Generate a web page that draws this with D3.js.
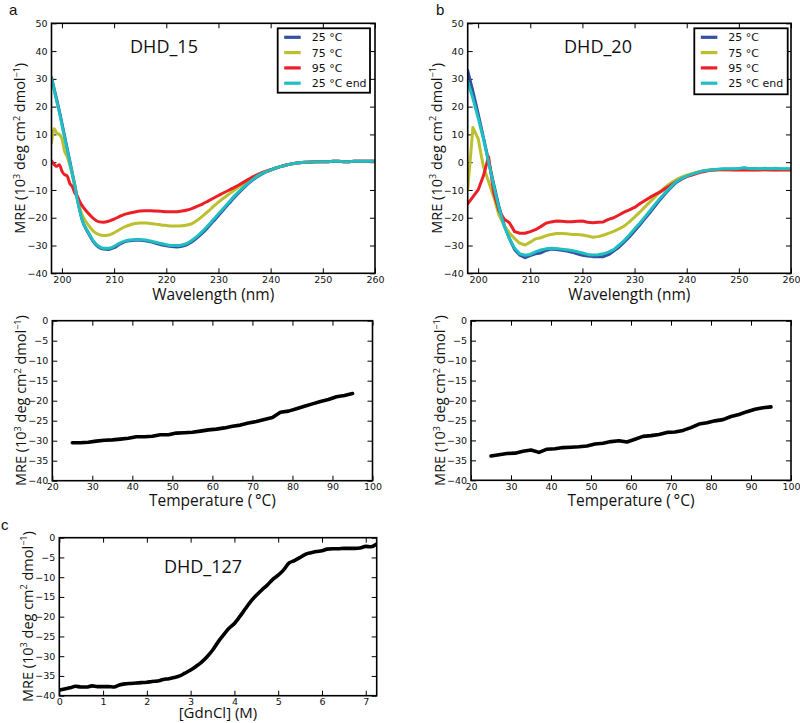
<!DOCTYPE html>
<html><head><meta charset="utf-8">
<script src="https://cdn.jsdelivr.net/npm/d3@7"></script>
<style>body{margin:0;background:#fff} svg{display:block}</style>
</head><body><svg id="chart" width="800" height="723"></svg>
<script>
// ---------- DATA ----------
// Panel a (DHD_15) CD spectra
const wlA = [198,198.5,199,199.5,200,200.5,201,201.5,202,202.5,203,203.5,204,
  205,206,207,208,209,210,211,212,213,214,215,216,217,218,219,220,221,222,223,224,225,226,227,228,229,230,
  231,232,233,234,235,236,237,238,239,240,241,242,243,244,245,246,247,248,249,250,251,252,253,254,255,256,257,258,259,260];
const a25 = [30.5,26.5,22.5,18.5,14,9.5,5,0.5,-4,-8.5,-13.5,-18,-21.5,
  -25.3,-28.6,-30.5,-31.3,-31.4,-30.8,-29.6,-28.7,-28.3,-28.1,-28.1,-28.3,-28.7,-29.2,-29.7,-30.1,-30.4,-30.5,-30.3,-29.7,-28.6,-27.1,-25.4,-23.4,-21.3,-19.2,
  -17,-14.9,-12.8,-10.8,-9,-7.3,-5.8,-4.6,-3.6,-2.9,-2.1,-1.5,-1,-0.6,-0.3,-0.1,0,0.1,0.2,0.2,0.2,0.3,0.3,0.2,0.2,0.3,0.3,0.3,0.3,0.3];
const a75 = [7,12,10.5,10,8.5,4,2,-1,-4.5,-9,-13.5,-17,-19.5,
  -22.5,-24.8,-26,-26.4,-26.2,-25.4,-24.3,-23.3,-22.6,-22.1,-21.9,-21.9,-22.1,-22.3,-22.6,-22.8,-23,-23,-22.9,-22.6,-22,-20.8,-19.3,-17.7,-16,-14.4,
  -12.9,-11.5,-10.1,-8.8,-7.5,-6.3,-5.2,-4.2,-3.4,-2.8,-2.1,-1.5,-1,-0.6,-0.3,-0.1,0,0.1,0.2,0.2,0.2,0.3,0.3,0.2,0.2,0.3,0.3,0.3,0.3,0.3];
const a95 = [0.5,-0.8,-1.5,-0.9,-3.2,-4.5,-4.9,-7.6,-8.8,-11.2,-12.4,-14.5,-16,
  -18.3,-20.2,-21.4,-21.6,-21.2,-20.5,-19.6,-18.8,-18.3,-17.9,-17.6,-17.5,-17.5,-17.6,-17.7,-17.8,-17.8,-17.8,-17.6,-17.2,-16.6,-15.8,-15,-14,-13,-12,
  -11,-10.1,-9.1,-8.1,-7,-5.9,-4.9,-4,-3.3,-2.7,-2.1,-1.5,-1,-0.6,-0.3,-0.1,0,0.1,0.2,0.2,0.2,0.3,0.3,0.2,0.2,0.3,0.3,0.3,0.3,0.3];
const a25end = [30,26,22,18,13.5,9,4.5,0,-4.5,-9,-14,-18,-21.5,
  -25,-28.3,-30.2,-31,-31,-30.3,-29.2,-28.4,-28,-27.8,-27.8,-28,-28.4,-28.8,-29.3,-29.7,-30,-30,-29.8,-29.2,-28,-26.5,-24.8,-22.8,-20.7,-18.6,
  -16.5,-14.4,-12.3,-10.4,-8.7,-7.1,-5.6,-4.4,-3.5,-2.8,-2.1,-1.5,-1,-0.6,-0.3,-0.1,0,0.1,0.2,0.2,0.2,0.3,0.3,0.2,0.2,0.3,0.3,0.3,0.3,0.3];

// Panel b (DHD_20) CD spectra
const wlB = d3.range(198, 261, 1);
const b25 = [33,25.5,17.5,9,0.5,-8,-16,-22.5,-27.5,-31.5,-33.5,-34.4,-33.6,-33,-32.7,-31.8,-31.3,-31.4,-31.7,-32,-32.4,-33,-33.5,-33.8,-34,-34,-34,
  -33.3,-32,-30.6,-28.8,-26.9,-24.8,-22.6,-20.3,-18,-15.6,-13.3,-11.1,-9.1,-7.3,-6.1,-5.1,-4.4,-3.8,-3.3,-3,-2.8,-2.6,-2.5,-2.5,-2.5,-2.4,-2.2,-2.4,-2.4,-2.5,-2.3,-2.5,-2.3,-2.5,-2.5,-2.5];
const b75 = [-10,12.5,8.5,-1.5,-7,-12.5,-19,-22.8,-25.5,-27.5,-29.2,-29.8,-28.8,-27.6,-27.2,-26.5,-26,-25.7,-25.7,-25.8,-26,-26,-26.2,-26.6,-27,-26.8,-26.3,
  -25.6,-24.9,-24,-23,-21.5,-19.8,-18,-16.1,-14.2,-12.3,-10.5,-8.8,-7.4,-6.3,-5.4,-4.7,-4.1,-3.6,-3.2,-2.9,-2.8,-2.7,-2.7,-2.7,-2.7,-2.6,-2.7,-2.7,-2.6,-2.7,-2.7,-2.6,-2.7,-2.7,-2.7,-2.7];
const b95 = [-15,-12.5,-10,-5,2,-11,-17.5,-20.5,-21.8,-25,-25.6,-25.6,-25,-24.3,-23.2,-22,-21.5,-21.2,-21.3,-21.4,-21.4,-21.3,-21.2,-21.6,-21.8,-21.6,-21.5,
  -20.6,-20,-19,-18,-17.2,-16.3,-15,-13.8,-12.6,-11.6,-10.6,-9.4,-8.2,-7,-6,-5.2,-4.6,-4,-3.5,-3.1,-2.8,-2.7,-2.7,-2.7,-2.8,-2.8,-2.7,-2.8,-2.7,-2.8,-2.7,-2.8,-2.7,-2.8,-2.8,-2.8];
const b25end = [29,23,16,8.5,0,-8.5,-16.5,-23,-27.5,-31,-33,-33.5,-33.2,-32.3,-31.6,-31.2,-31,-31.1,-31.3,-31.5,-31.8,-32.2,-32.7,-33.2,-33.4,-33.3,-33,
  -32.4,-31.5,-29.9,-28.2,-26.2,-24,-22,-19.7,-17.4,-15,-12.8,-10.7,-8.8,-7,-5.9,-5,-4.3,-3.7,-3.2,-2.9,-2.7,-2.5,-2.4,-2.4,-2.4,-2.3,-2.0,-2.3,-2.3,-2.4,-2.2,-2.4,-2.2,-2.4,-2.4,-2.4];

// Thermal melts at 222 nm
const temps = d3.range(25, 96, 2);
const meltA = [-30.5,-30.5,-30.4,-30.1,-29.9,-29.8,-29.6,-29.4,-29.0,-29.0,-28.9,-28.5,-28.5,-28.1,-28.0,-27.9,-27.6,-27.3,
  -27.1,-26.8,-26.4,-26.1,-25.6,-25.2,-24.7,-24.2,-22.9,-22.6,-22.0,-21.4,-20.8,-20.2,-19.7,-19.0,-18.7,-18.2];
const meltB = [-33.9,-33.6,-33.3,-33.2,-32.7,-32.4,-33.0,-32.2,-32.1,-31.8,-31.7,-31.6,-31.4,-30.9,-30.7,-30.3,-30.1,-30.4,
  -29.7,-29.0,-28.8,-28.5,-28.0,-27.9,-27.5,-26.8,-25.9,-25.6,-25.1,-24.8,-24.0,-23.5,-22.8,-22.2,-21.8,-21.6];

// Chemical denaturation (DHD_127)
const gdn = [0,0.12,0.25,0.37,0.5,0.62,0.75,0.87,1.0,1.12,1.25,1.37,1.5,1.62,1.75,1.87,2.0,2.12,2.25,2.37,2.5,2.62,2.75,2.87,
  3.0,3.12,3.25,3.37,3.5,3.62,3.75,3.87,4.0,4.12,4.25,4.37,4.5,4.62,4.75,4.87,5.0,5.12,5.25,5.37,5.5,5.62,5.75,5.87,
  6.0,6.12,6.25,6.37,6.5,6.62,6.75,6.87,7.0,7.12,7.25];
const mreC = [-38.6,-38.3,-38.0,-37.6,-37.8,-37.8,-37.5,-37.7,-37.7,-37.7,-37.8,-37.3,-37.0,-36.9,-36.8,-36.7,-36.6,-36.4,-36.3,-35.9,-35.7,-35.4,-35.0,-34.3,
  -33.5,-32.6,-31.5,-30.2,-28.5,-26.5,-24.6,-23.0,-21.7,-20.0,-18.0,-16.2,-14.6,-13.3,-12.0,-10.6,-9.5,-8.2,-6.4,-5.8,-5.0,-4.2,-3.8,-3.5,
  -3.3,-2.9,-2.8,-2.8,-2.7,-2.7,-2.7,-2.6,-2.2,-2.3,-1.6];

const legendLabels = ["25 \u00B0C", "75 \u00B0C", "95 \u00B0C", "25 \u00B0C end"];
const colors = ["#3450a3", "#bcbf2e", "#ec1f26", "#20bdc2"];
const wlTicks = [200,210,220,230,240,250,260];
const cdTicks = [-40,-30,-20,-10,0,10,20,30,40,50];
const tTicks = [20,30,40,50,60,70,80,90,100];
const meltTicks = [-40,-35,-30,-25,-20,-15,-10,-5,0];
const gdnTicks = [0,1,2,3,4,5,6,7];

// ---------- DRAWING ----------
const svg = d3.select("#chart");
const tickFont = "DejaVu Sans";
const labelFont = "Open Sans";
let clipId = 0;

function yLabel(g, x, yc) {
  const t = g.append("text")
    .attr("transform", `translate(${x},${yc}) rotate(-90)`)
    .attr("text-anchor", "middle")
    .attr("font-family", labelFont).attr("font-size", 14.5).attr("fill", "#111");
  t.append("tspan").text("MRE (10");
  t.append("tspan").text("3").attr("font-size", 9).attr("dy", -5.5);
  t.append("tspan").text(" deg cm").attr("dy", 5.5);
  t.append("tspan").text("2").attr("font-size", 9).attr("dy", -5.5);
  t.append("tspan").text(" dmol").attr("dy", 5.5);
  t.append("tspan").text("\u22121").attr("font-size", 9).attr("dy", -5.5);
  t.append("tspan").text(")").attr("dy", 5.5);
}

function panel(c) {
  const g = svg.append("g");
  const x = d3.scaleLinear().domain(c.xd).range([c.x0, c.x1]);
  const y = d3.scaleLinear().domain(c.yd).range([c.y1, c.y0]);
  const id = "clip" + (clipId++);
  svg.append("clipPath").attr("id", id).append("rect")
    .attr("x", c.x0).attr("y", c.y0).attr("width", c.x1 - c.x0).attr("height", c.y1 - c.y0);

  const styleAxis = sel => {
    sel.select(".domain").remove();
    sel.selectAll(".tick line").attr("stroke", "#000").attr("stroke-width", 1);
    sel.selectAll(".tick text").attr("font-family", tickFont).attr("font-size", 9.5).attr("fill", "#111");
  };
  g.append("g").attr("transform", `translate(0,${c.y1})`)
    .call(d3.axisBottom(x).tickValues(c.xt).tickSize(-5).tickPadding(3)).call(styleAxis);
  g.append("g").attr("transform", `translate(0,${c.y0})`)
    .call(d3.axisTop(x).tickValues(c.xt).tickSize(-5).tickFormat("")).call(styleAxis);
  g.append("g").attr("transform", `translate(${c.x0},0)`)
    .call(d3.axisLeft(y).tickValues(c.yt).tickSize(-5).tickPadding(4)).call(styleAxis);
  g.append("g").attr("transform", `translate(${c.x1},0)`)
    .call(d3.axisRight(y).tickValues(c.yt).tickSize(-5).tickFormat("")).call(styleAxis);

  const lines = g.append("g").attr("clip-path", `url(#${id})`);
  c.series.forEach(s => {
    const pts = s.x.map((v, i) => [v, s.y[i]]);
    lines.append("path").datum(pts)
      .attr("fill", "none").attr("stroke", s.color).attr("stroke-width", s.w)
      .attr("stroke-linejoin", "round").attr("stroke-linecap", "round")
      .attr("d", d3.line().x(d => x(d[0])).y(d => y(d[1])).curve(s.curve || d3.curveLinear));
  });

  g.append("rect").attr("x", c.x0).attr("y", c.y0).attr("width", c.x1 - c.x0).attr("height", c.y1 - c.y0)
    .attr("fill", "none").attr("stroke", "#000").attr("stroke-width", 1.6);

  g.append("text").attr("x", (c.x0 + c.x1) / 2).attr("y", c.xlY).attr("text-anchor", "middle")
    .attr("font-family", labelFont).attr("font-size", c.xlSize || 15.5).attr("fill", "#111").text(c.xl);
  yLabel(g, c.ylX, (c.y0 + c.y1) / 2);

  if (c.title) {
    g.append("text").attr("x", c.title[1]).attr("y", c.title[2]).attr("text-anchor", "middle")
      .attr("font-family", labelFont).attr("font-size", 18).attr("fill", "#111").text(c.title[0]);
  }
  if (c.legend) {
    const L = c.legend;
    const lg = g.append("g");
    lg.append("rect").attr("x", L.x).attr("y", L.y).attr("width", L.w).attr("height", L.h)
      .attr("fill", "#fff").attr("stroke", "#000").attr("stroke-width", 1.8);
    legendLabels.forEach((lab, i) => {
      const yy = L.y + 9 + i * 15.3;
      lg.append("line").attr("x1", L.x + 6.5).attr("x2", L.x + 23).attr("y1", yy).attr("y2", yy)
        .attr("stroke", colors[i]).attr("stroke-width", 3.2);
      lg.append("text").attr("x", L.x + 34).attr("y", yy + 4).attr("font-family", tickFont)
        .attr("font-size", 11).attr("fill", "#111").text(lab);
    });
  }
  return g;
}

const cdSeries = (wl, arrs, curve) => arrs.map((arr, i) => ({x: wl, y: arr, color: colors[i], w: 3, curve}));

panel({x0: 51.5, x1: 375, y0: 23.3, y1: 273.3, xd: [198, 260], yd: [-40, 50], xt: wlTicks, yt: cdTicks,
  series: cdSeries(wlA, [a25, a75, a95, a25end], d3.curveMonotoneX),
  xl: "Wavelength (nm)", xlY: 299.5, ylX: 25, title: ["DHD_15", 164, 53],
  legend: {x: 277.7, y: 28.3, w: 92.3, h: 64.4}});

panel({x0: 467.7, x1: 791, y0: 23.3, y1: 273.3, xd: [198, 260], yd: [-40, 50], xt: wlTicks, yt: cdTicks,
  series: cdSeries(wlB, [b25, b75, b95, b25end], d3.curveLinear),
  xl: "Wavelength (nm)", xlY: 299.5, ylX: 441.5, title: ["DHD_20", 598, 53],
  legend: {x: 694.3, y: 28.3, w: 93.4, h: 66}});

panel({x0: 52.3, x1: 372.5, y0: 320.7, y1: 480.7, xd: [20, 100], yd: [-40, 0], xt: tTicks, yt: meltTicks,
  series: [{x: temps, y: meltA, color: "#000", w: 3.6}],
  xl: "Temperature (\u2009\u00B0C)", xlY: 506, ylX: 26});

panel({x0: 471, x1: 791, y0: 320.7, y1: 480.3, xd: [20, 100], yd: [-40, 0], xt: tTicks, yt: meltTicks,
  series: [{x: temps, y: meltB, color: "#000", w: 3.6}],
  xl: "Temperature (\u2009\u00B0C)", xlY: 505.5, ylX: 445});

panel({x0: 59.3, x1: 376.7, y0: 537.7, y1: 695.7, xd: [0, 7.25], yd: [-40, 0], xt: gdnTicks, yt: meltTicks,
  series: [{x: gdn, y: mreC, color: "#000", w: 3.6, curve: d3.curveMonotoneX}],
  xl: "[GdnCl] (M)", xlY: 718, xlSize: 15, ylX: 32.5, title: ["DHD_127", 203, 573]});

// panel letters
[["a", 9, 15], ["b", 436, 15], ["c", 1, 530]].forEach(([t, x, y]) =>
  svg.append("text").attr("x", x).attr("y", y).attr("font-family", "Liberation Sans").attr("font-size", 15)
    .attr("fill", "#111").text(t));
</script>
</body></html>
